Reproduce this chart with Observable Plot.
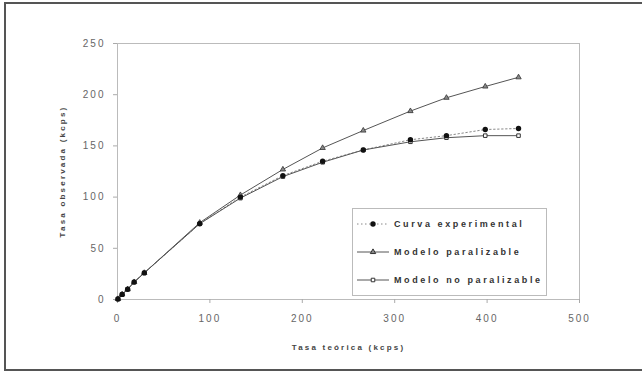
<!DOCTYPE html>
<html>
<head>
<meta charset="utf-8">
<script src="https://cdn.jsdelivr.net/npm/d3@7"></script>
<script src="https://cdn.jsdelivr.net/npm/@observablehq/plot@0.6"></script>
<style>
  html, body { margin: 0; padding: 0; background: #fff; overflow: hidden; }
  #wrap { position: relative; width: 642px; height: 376px; }
  #border { position: absolute; left: 4px; top: 2px; width: 700px; height: 369px; border: 2px solid #555; box-sizing: border-box; }
  #chart { position: absolute; left: 0; top: 0; }
  #chart svg g[aria-label="x-axis tick label"] text,
  #chart svg g[aria-label="y-axis tick label"] text { letter-spacing: 2px; }
</style>
</head>
<body>
<div id="wrap"><div id="border"></div><div id="chart"></div></div>
<script>
// Tasa teórica (kcps) y tasas observadas (kcps) de cada serie
const tasaTeorica = [0.5, 5, 11, 18, 29, 89, 133, 179, 222, 266, 317, 356, 398, 434];
const curvaExperimental = [0.5, 5, 10, 17, 26, 74, 100, 121, 135, 146, 156, 160, 166, 167];
const modeloParalizable = [0.5, 5, 10, 17, 26, 75, 102, 127, 148, 165, 184, 197, 208, 217];
const modeloNoParalizable = [0.5, 5, 10, 17, 26, 74, 99, 120, 134, 146, 154, 158, 160, 160];

const seriesNames = ["Curva experimental", "Modelo paralizable", "Modelo no paralizable"];
const xTicks = [0, 100, 200, 300, 400, 500];
const yTicks = [0, 50, 100, 150, 200, 250];

const toRows = (ys) => tasaTeorica.map((x, i) => ({x, y: ys[i]}));
const exp = toRows(curvaExperimental);
const par = toRows(modeloParalizable);
const nopar = toRows(modeloNoParalizable);

const font = "Arial, 'Liberation Sans', sans-serif";

const chart = Plot.plot({
  width: 642,
  height: 376,
  marginLeft: 117,
  marginRight: 63,
  marginTop: 43,
  marginBottom: 77,
  style: {fontFamily: font, fontSize: "10px", color: "#666", background: "transparent"},
  x: {domain: [0, 500], ticks: xTicks, label: null},
  y: {domain: [0, 250], ticks: yTicks, label: null},
  marks: [
    Plot.frame({stroke: "#bbb"}),
    Plot.axisX({ticks: xTicks, tickSize: 4, tickPadding: 11, stroke: "#aaa", fill: "#666", label: null}),
    Plot.axisY({ticks: yTicks, tickSize: 4, tickPadding: 8, stroke: "#aaa", fill: "#666", label: null}),
    Plot.text(["Tasa teórica (kcps)"], {frameAnchor: "bottom", dy: 48, textAnchor: "middle", lineAnchor: "middle", fontWeight: "bold", fontSize: 8, fill: "#444"}),
    Plot.text(["Tasa observada (kcps)"], {frameAnchor: "left", dx: -55, rotate: -90, textAnchor: "middle", lineAnchor: "middle", fontWeight: "bold", fontSize: 8, fill: "#444"}),
    Plot.line(exp, {x: "x", y: "y", stroke: "#888", strokeWidth: 1, strokeDasharray: "1.5,2.5"}),
    Plot.line(nopar, {x: "x", y: "y", stroke: "#555", strokeWidth: 1}),
    Plot.line(par, {x: "x", y: "y", stroke: "#555", strokeWidth: 1}),
    Plot.dot(nopar, {x: "x", y: "y", symbol: "square", r: 2, fill: "#fff", stroke: "#333", strokeWidth: 1}),
    Plot.dot(par, {x: "x", y: "y", symbol: "triangle", r: 2, fill: "#888", stroke: "#333", strokeWidth: 0.8}),
    Plot.dot(exp, {x: "x", y: "y", r: 2.7, fill: "#111"})
  ]
});

const svg = d3.select(chart);
// letter spacing for both axis titles
svg.selectAll("text")
  .filter(function () { return this.textContent === "Tasa observada (kcps)" || this.textContent === "Tasa teórica (kcps)"; })
  .style("letter-spacing", "2.2px");

// legend box in the lower right of the plotting area
const lg = svg.append("g").attr("font-family", font).attr("text-anchor", "start");
lg.append("rect").attr("x", 352.5).attr("y", 208.5).attr("width", 194).attr("height", 87)
  .attr("fill", "#fff").attr("stroke", "#bbb");
const rowsY = [224, 252, 280];
const styles = [
  {dash: "1.5,2.5", stroke: "#888", sym: d3.symbolCircle, size: 2.7 * 2.7 * Math.PI, fill: "#111", sStroke: "none"},
  {dash: null, stroke: "#555", sym: d3.symbolTriangle, size: 2 * 2 * Math.PI, fill: "#888", sStroke: "#333"},
  {dash: null, stroke: "#555", sym: d3.symbolSquare, size: 2 * 2 * Math.PI, fill: "#fff", sStroke: "#333"}
];
seriesNames.forEach((name, i) => {
  const s = styles[i], y = rowsY[i];
  lg.append("line").attr("x1", 357).attr("x2", 389).attr("y1", y).attr("y2", y)
    .attr("stroke", s.stroke).attr("stroke-dasharray", s.dash);
  lg.append("path").attr("d", d3.symbol(s.sym, s.size)()).attr("transform", `translate(373,${y})`)
    .attr("fill", s.fill).attr("stroke", s.sStroke);
  lg.append("text").attr("x", 394).attr("y", y).attr("dy", "0.35em").attr("text-anchor", "start")
    .attr("font-size", 9).attr("font-weight", "bold").attr("fill", "#333")
    .style("letter-spacing", "2.6px").text(name);
});

document.getElementById("chart").append(chart);
</script>
</body>
</html>
